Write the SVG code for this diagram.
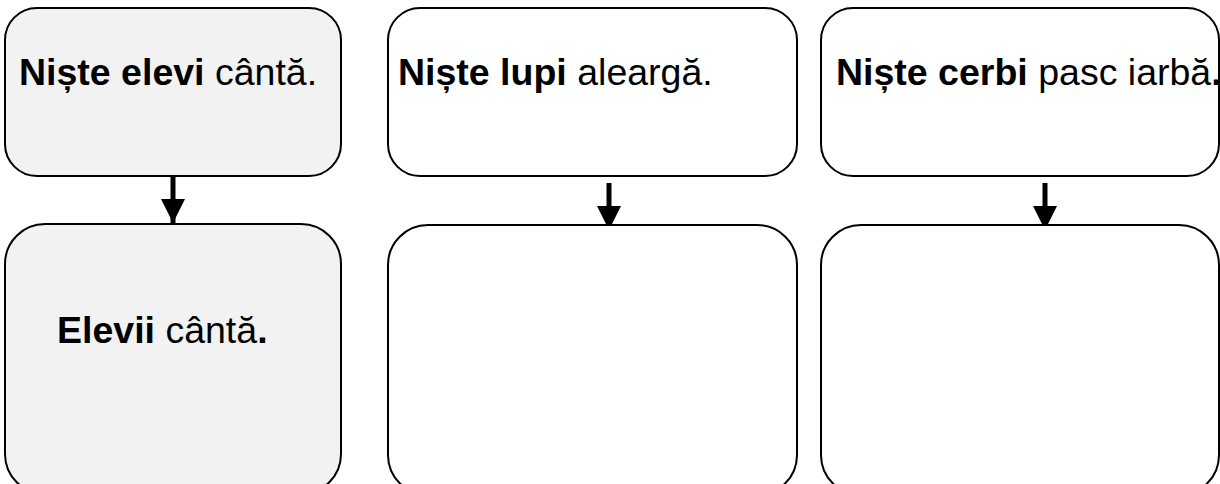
<svg xmlns="http://www.w3.org/2000/svg" width="1220" height="484" viewBox="0 0 1220 484">
<style>
.box{stroke:#000;stroke-width:2}
.grey{fill:#f2f2f2}
.white{fill:#fff}
.t{font-family:"Liberation Sans",Arial,sans-serif;font-size:37.5px;fill:#000}
.b{font-weight:bold}
.conn{stroke:#000;stroke-width:5;fill:none}
</style>
<defs>
<marker id="ah" markerUnits="userSpaceOnUse" markerWidth="24" markerHeight="24" viewBox="0 0 24 24" refX="24" refY="12" orient="auto">
<path d="M0,0 L24,12 L0,24 Z" fill="#000"/>
</marker>
</defs>
<rect width="1220" height="484" fill="#fff"/>
<g id="connectors">
<path class="conn" d="M173,176 V223" marker-end="url(#ah)"/>
<path class="conn" d="M609,183 V230" marker-end="url(#ah)"/>
<path class="conn" d="M1045,183 V230" marker-end="url(#ah)"/>
</g>
<g id="n1">
<rect class="box grey" x="5" y="8" width="336" height="168" rx="32"/>
<text class="t" x="19" y="85"><tspan class="b">Niște elevi</tspan> cântă.</text>
</g>
<g id="n2">
<rect class="box white" x="388" y="8" width="409" height="168" rx="32"/>
<text class="t" x="398" y="85"><tspan class="b">Niște lupi</tspan> aleargă.</text>
</g>
<g id="n3">
<rect class="box white" x="821" y="8" width="398" height="168" rx="32"/>
<text class="t" x="836" y="85"><tspan class="b">Niște cerbi</tspan> pasc iarbă<tspan class="b">.</tspan></text>
</g>
<g id="n4">
<rect class="box grey" x="5" y="224" width="336" height="270" rx="40"/>
<text class="t" x="57" y="343"><tspan class="b">Elevii</tspan> cântă<tspan class="b">.</tspan></text>
</g>
<g id="n5">
<rect class="box white" x="388" y="225" width="409" height="270" rx="40"/>
</g>
<g id="n6">
<rect class="box white" x="821" y="225" width="398" height="270" rx="40"/>
</g>
</svg>
